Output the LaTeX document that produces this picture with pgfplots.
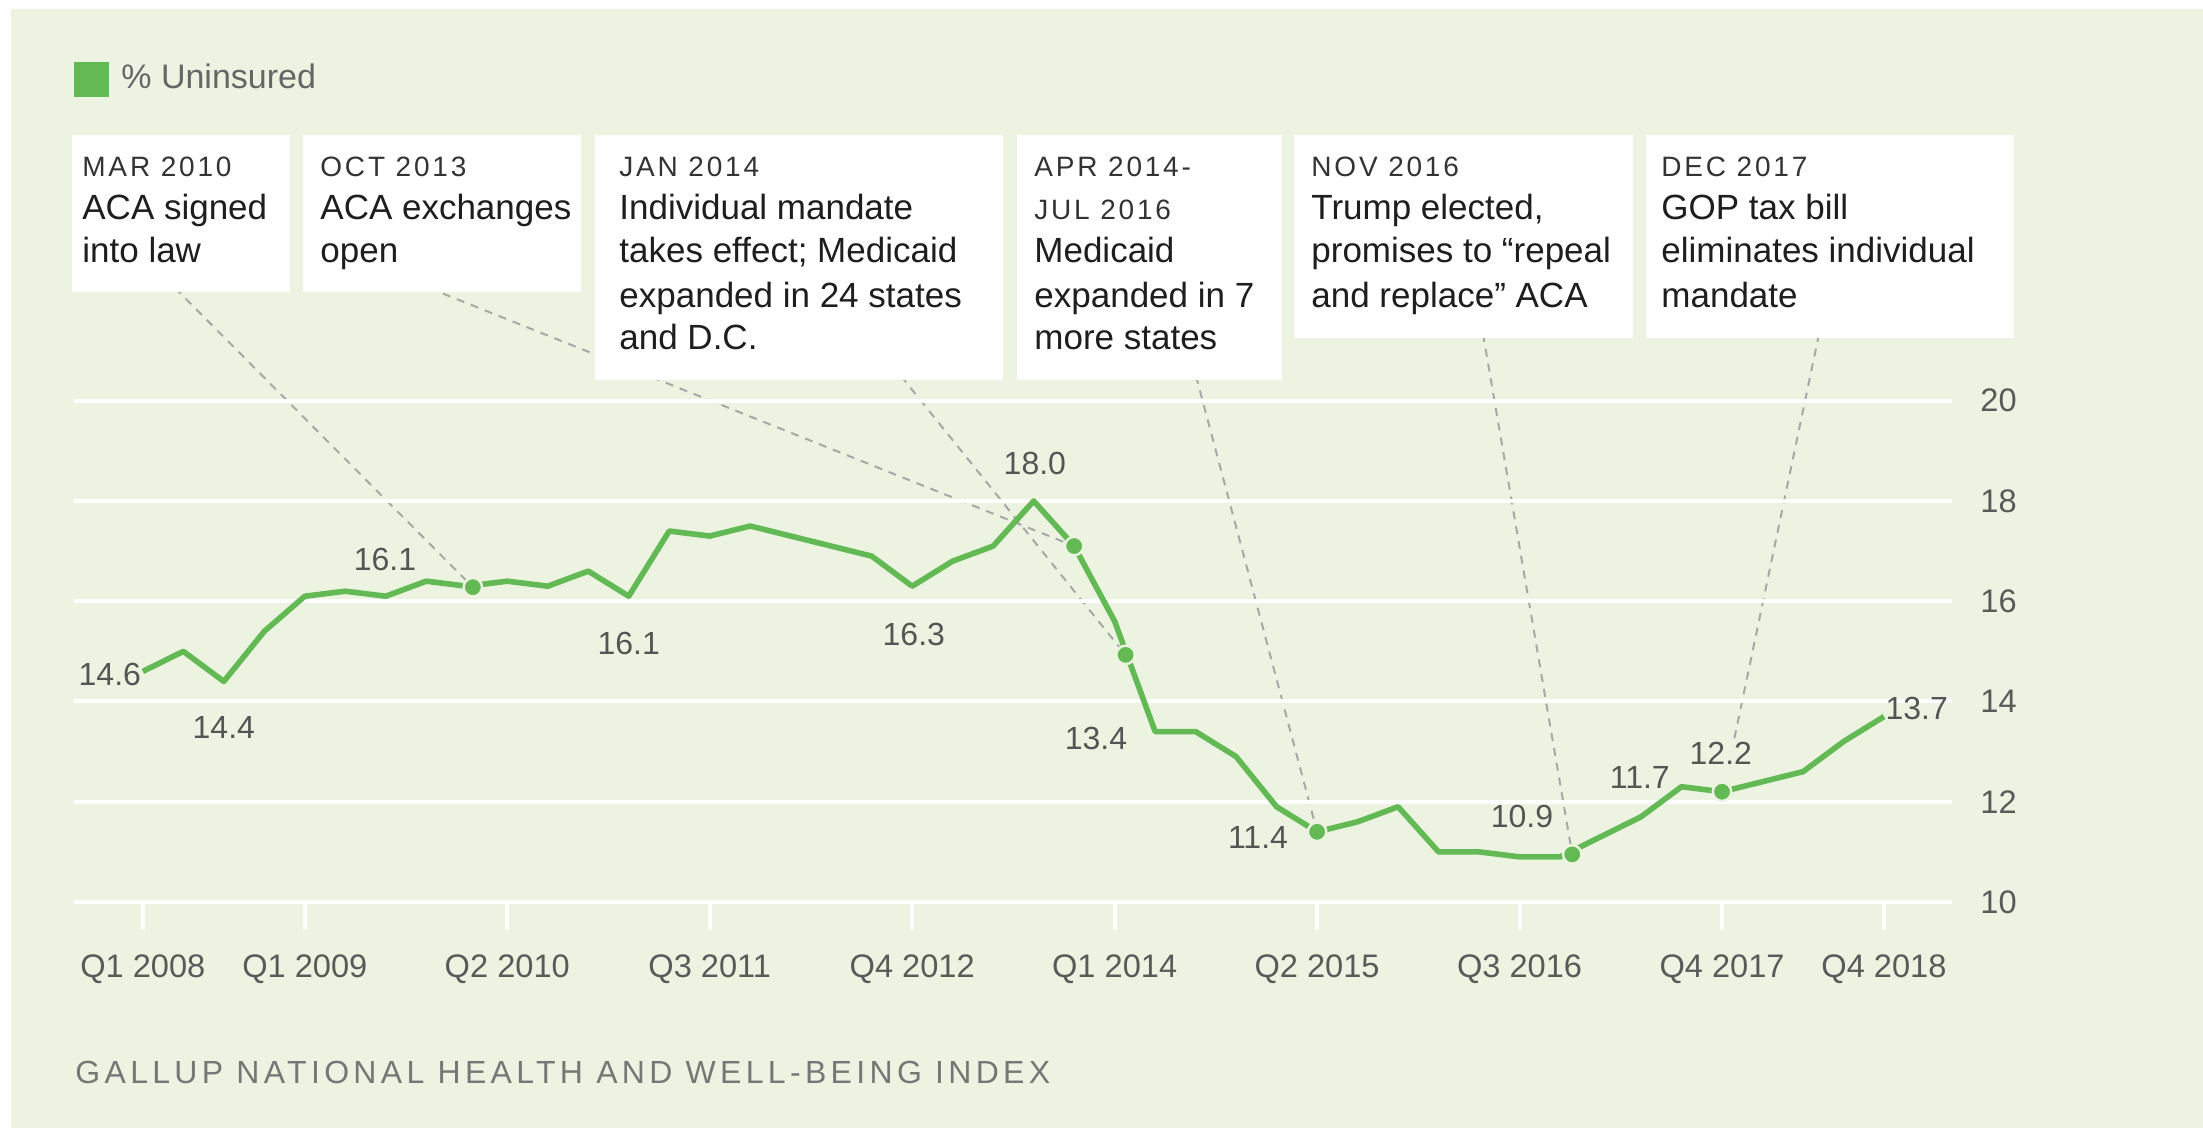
\documentclass[border=0pt]{standalone}
\usepackage{fontspec}
\setmainfont{Liberation Sans}
\newfontfamily\hdrfont{Liberation Sans}[LetterSpace=10]
\newfontfamily\srcfont{Liberation Sans}[LetterSpace=13.5]
\usepackage{pgfplots}
\pgfplotsset{compat=1.18}
\usepackage{pgfplotstable}
\definecolor{bggreen}{HTML}{ECF3E1}
\definecolor{linegreen}{HTML}{63BA54}
\definecolor{hdrgray}{HTML}{333333}
\definecolor{bodyblack}{HTML}{1E1E1E}
\definecolor{labelgray}{HTML}{555555}
\definecolor{tickgray}{HTML}{5A5A5A}
\definecolor{legendgray}{HTML}{666666}
\definecolor{srcgray}{HTML}{777777}
\definecolor{leadergray}{HTML}{A8A8A8}
\pgfdeclarelayer{background}
\pgfdeclarelayer{leaders}
\pgfsetlayers{background,leaders,main}

\pgfplotstableread{
idx val
0 14.6
1 15.0
2 14.4
3 15.4
4 16.1
5 16.2
6 16.1
7 16.4
8 16.3
9 16.4
10 16.3
11 16.6
12 16.1
13 17.4
14 17.3
15 17.5
16 17.3
17 17.1
18 16.9
19 16.3
20 16.8
21 17.1
22 18.0
23 17.1
24 15.6
25 13.4
26 13.4
27 12.9
28 11.9
29 11.4
30 11.6
31 11.9
32 11.0
33 11.0
34 10.9
35 10.9
36 11.3
37 11.7
38 12.3
39 12.2
40 12.4
41 12.6
42 13.2
43 13.7
}\uninsured

\newcommand{\hdr}[3]{\node[anchor=base west,inner sep=0pt,text=hdrgray,font=\hdrfont\fontsize{14}{16}\selectfont] at (#1,#2) {#3};}
\newcommand{\bdy}[3]{\node[anchor=base west,inner sep=0pt,text=bodyblack,font=\fontsize{17.5}{21}\selectfont] at (#1,#2) {#3};}
\newcommand{\dlab}[3]{\node[inner sep=0pt,text=labelgray,font=\fontsize{16}{19}\selectfont] at (axis cs:#1,#2) {#3};}

\begin{document}
\begin{tikzpicture}
\begin{scope}[x=0.5pt,y=-0.5pt]
\useasboundingbox (0,0) rectangle (2203,1128);
\begin{pgfonlayer}{background}
\fill[white] (0,0) rectangle (2203,1128);
\fill[bggreen] (11,9) rectangle (2203,1128);
\end{pgfonlayer}
% legend
\fill[linegreen] (74,62) rectangle (109,97);
\node[anchor=base west, inner sep=0pt, text=legendgray, font=\fontsize{17}{20}\selectfont] at (121,89) {\% Uninsured};
% annotation boxes
\fill[white] (72,135) rectangle (290,292);
\fill[white] (303,135) rectangle (581,292);
\fill[white] (595,135) rectangle (1003,380);
\fill[white] (1017,135) rectangle (1282,380);
\fill[white] (1294,135) rectangle (1633,338);
\fill[white] (1646,135) rectangle (2014,338);
\hdr{82}{177}{MAR 2010}
\bdy{82}{220}{ACA signed}
\bdy{82}{263}{into law}
\hdr{320}{177}{OCT 2013}
\bdy{320}{220}{ACA exchanges}
\bdy{320}{263}{open}
\hdr{619}{177}{JAN 2014}
\bdy{619}{220}{Individual mandate}
\bdy{619}{263}{takes effect; Medicaid}
\bdy{619}{307}{expanded in 24 states}
\bdy{619}{350}{and D.C.}
\hdr{1034}{177}{APR 2014-}
\hdr{1034}{220}{JUL 2016}
\bdy{1034}{263}{Medicaid}
\bdy{1034}{307}{expanded in 7}
\bdy{1034}{350}{more states}
\hdr{1311}{177}{NOV 2016}
\bdy{1311}{220}{Trump elected,}
\bdy{1311}{263}{promises to “repeal}
\bdy{1311}{307}{and replace” ACA}
\hdr{1661}{177}{DEC 2017}
\bdy{1661}{220}{GOP tax bill}
\bdy{1661}{263}{eliminates individual}
\bdy{1661}{307}{mandate}
% source
\node[anchor=base west, inner sep=0pt, text=srcgray, font=\srcfont\fontsize{16}{19}\selectfont] at (75,1083) {GALLUP NATIONAL HEALTH AND WELL-BEING INDEX};
\end{scope}

\begin{axis}[
  at={(37pt,-451pt)}, anchor=south west,
  scale only axis, width=939pt, height=250.65pt,
  xmin=-1.70, xmax=44.68, ymin=10, ymax=20,
  clip=false,
  axis line style={draw=none},
  ymajorgrids, grid style={white, line width=2pt},
  ytick={10,12,14,16,18,20},
  yticklabels={10,12,14,16,18,20},
  ytick pos=right, yticklabel pos=right,
  xtick={0,4,9,14,19,24,29,34,39,43},
  xticklabels={Q1 2008,Q1 2009,Q2 2010,Q3 2011,Q4 2012,Q1 2014,Q2 2015,Q3 2016,Q4 2017,Q4 2018},
  xtick pos=left,
  xtick style={white, line width=2pt},
  ytick style={draw=none},
  tick align=outside, major tick length=14pt,
  x tick label style={font=\fontsize{16.3}{19}\selectfont, text=tickgray, anchor=north, inner sep=0pt, yshift=-12pt},
  y tick label style={font=\fontsize{16.3}{19}\selectfont, text=tickgray, anchor=west, inner sep=0pt},
  /pgf/number format/assume math mode=true,
]
\addplot[linegreen, line width=2.8pt, line join=round, mark=none] table[x=idx, y=val] {\uninsured};
\addplot[only marks, mark=*, mark size=4.6pt, mark options={fill=linegreen, draw=bggreen, line width=1.2pt}] coordinates {
(8.15,16.28) (23,17.1) (24.27,14.93) (29,11.4) (35.3,10.95) (39,12.2)};
\dlab{-0.815}{14.548}{14.6}
\dlab{2.0}{13.49}{14.4}
\dlab{5.98}{16.84}{16.1}
\dlab{12.0}{15.15}{16.1}
\dlab{19.04}{15.33}{16.3}
\dlab{22.03}{18.74}{18.0}
\dlab{23.54}{13.27}{13.4}
\dlab{27.54}{11.28}{11.4}
\dlab{34.06}{11.70}{10.9}
\dlab{36.97}{12.49}{11.7}
\dlab{38.97}{12.97}{12.2}
\dlab{43.81}{13.87}{13.7}
\coordinate (d1) at (axis cs:8.15,16.28);
\coordinate (d2) at (axis cs:23,17.1);
\coordinate (d3) at (axis cs:24.27,14.93);
\coordinate (d4) at (axis cs:29,11.4);
\coordinate (d5) at (axis cs:35.3,10.95);
\coordinate (d6) at (axis cs:39.27,13.13);
\end{axis}

\begin{pgfonlayer}{leaders}
\begin{scope}[x=0.5pt,y=-0.5pt]
\draw[leadergray, line width=1pt, dash pattern=on 4pt off 3.5pt] (175,288) -- (d1);
\draw[leadergray, line width=1pt, dash pattern=on 4pt off 3.5pt] (429,288) -- (d2);
\draw[leadergray, line width=1pt, dash pattern=on 4pt off 3.5pt] (901,376) -- (d3);
\draw[leadergray, line width=1pt, dash pattern=on 4pt off 3.5pt] (1196,376) -- (d4);
\draw[leadergray, line width=1pt, dash pattern=on 4pt off 3.5pt] (1483,334) -- (d5);
\draw[leadergray, line width=1pt, dash pattern=on 4pt off 3.5pt] (1819,334) -- (d6);
\end{scope}
\end{pgfonlayer}
\end{tikzpicture}
\end{document}
